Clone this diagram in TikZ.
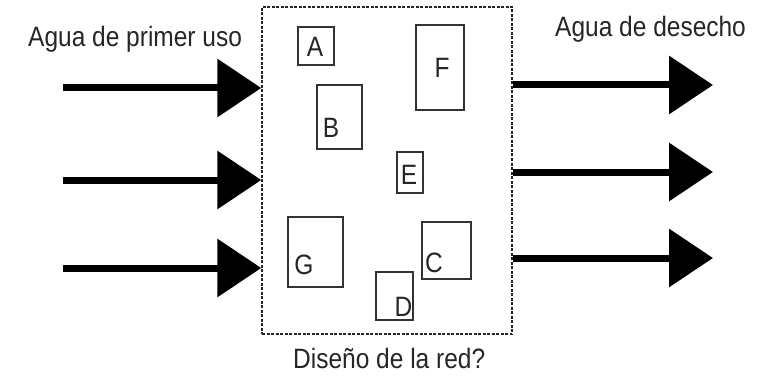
\documentclass[tikz,border=0pt]{standalone}
\usepackage{fontspec}
\setmainfont{Liberation Sans}
\newfontfamily\labfont[FakeStretch=0.875]{Liberation Sans}
\usetikzlibrary{arrows.meta}

\tikzset{
  unit/.style={draw=black!80, line width=1.8pt, inner sep=0pt},
  letter/.style={inner sep=0pt, text=black!85, font=\labfont\fontsize{28}{30}\selectfont},
  caption/.style={inner sep=0pt, text=black!85, font=\labfont\fontsize{28}{30}\selectfont},
  flow/.style={line width=7pt, -{Triangle[length=44pt, width=57pt]}},
  region/.style={draw=black!85, line width=1.5pt, dash pattern=on 3pt off 1.5pt, inner sep=0pt}
}

\begin{document}
\begin{tikzpicture}[x=1pt, y=-1pt]
  \useasboundingbox (0,0) rectangle (757,385);

  % network region
  \node[region, minimum width=250pt, minimum height=327pt] (net) at (387,170.5) {};

  % process units
  \node[unit, minimum width=36pt, minimum height=38pt] (A) at (316,46) {};
  \node[unit, minimum width=45pt, minimum height=64pt] (B) at (339.5,117) {};
  \node[unit, minimum width=48pt, minimum height=85pt] (F) at (440,67.5) {};
  \node[unit, minimum width=26pt, minimum height=41pt] (E) at (410,172.5) {};
  \node[unit, minimum width=55pt, minimum height=70pt] (G) at (315.5,252) {};
  \node[unit, minimum width=49pt, minimum height=57pt] (C) at (446.5,250.5) {};
  \node[unit, minimum width=37pt, minimum height=48pt] (D) at (394.5,296) {};

  \node[letter] (lA) at (315,47) {A};
  \node[letter] (lB) at (331,128) {B};
  \node[letter] (lF) at (442,67.5) {F};
  \node[letter] (lE) at (409,175) {E};
  \node[letter] (lG) at (304,265) {G};
  \node[letter] (lC) at (434,263) {C};
  \node[letter] (lD) at (403.5,307) {D};

  % captions
  \node[caption, anchor=base west] (fresh) at (28,47) {Agua de primer uso};
  \node[caption, anchor=base west] (waste) at (555,37) {Agua de desecho};
  \node[caption, anchor=base west] (design) at (293,368) {Diseño de la red?};

  % inlet and outlet streams
  \coordinate (in1) at (63,88);
  \coordinate (in2) at (63,180);
  \coordinate (in3) at (63,268);
  \coordinate (out1) at (713,85);
  \coordinate (out2) at (713,172);
  \coordinate (out3) at (713,258);

  \foreach \s in {in1,in2,in3}
    \draw[flow] (\s) -- (\s -| net.west);
  \foreach \s in {out1,out2,out3}
    \draw[flow] (\s -| net.east) -- (\s);
\end{tikzpicture}
\end{document}
